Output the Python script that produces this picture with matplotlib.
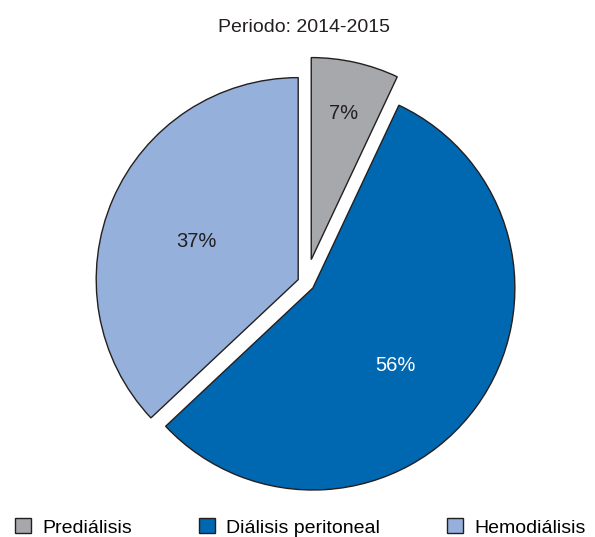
import numpy as np
import matplotlib.pyplot as plt
from matplotlib.patches import Patch

plt.rcParams['font.family'] = ['Liberation Sans', 'DejaVu Sans']

# datos
categorias = ['Prediálisis', 'Diálisis peritoneal', 'Hemodiálisis']
porcentajes = [7, 56, 37]
colores = ['#a7a8ab', '#0067b1', '#95b0db']
color_texto = ['#231f20', 'white', '#231f20']
titulo = 'Periodo: 2014-2015'

fig = plt.figure(figsize=(5.95, 5.37), dpi=100)
ax = fig.add_axes([0, 0, 1, 1])

radio = 202
centro = (306, 537 - 283)
explode = [24, 8.5, 8.5]  # en unidades de datos (px)

wedges, _ = ax.pie(porcentajes, colors=colores, startangle=90, counterclock=False,
                   explode=explode, radius=radio, center=centro,
                   wedgeprops=dict(edgecolor='#231f20', linewidth=1.0))
ax.set_xlim(0, 595)
ax.set_ylim(0, 537)
ax.set_aspect('equal')
ax.axis('off')

# etiquetas de porcentaje (distancia relativa y giro en grados)
dist = [0.74, 0.56, 0.54]
giro = [0, -7, 3]
for w, p, d, g, c in zip(wedges, porcentajes, dist, giro, color_texto):
    ang = np.deg2rad((w.theta1 + w.theta2) / 2 + g)
    cx, cy = w.center
    x = cx + d * radio * np.cos(ang)
    y = cy + d * radio * np.sin(ang)
    ax.text(x, y, f'{p}%', ha='center', va='center', fontsize=14.5, color=c)

ax.text(304, 537 - 27, titulo, ha='center', va='center', fontsize=14, color='#231f20')

handles = [Patch(facecolor=c, edgecolor='#231f20', linewidth=1.0) for c in colores]
fig.legend(handles, categorias, loc='lower center', ncol=3, frameon=False,
           bbox_to_anchor=(0.505, -0.032), fontsize=14, columnspacing=3.45,
           handlelength=0.8, handleheight=0.8, handletextpad=0.6)

fig.savefig('out.png', dpi=100)
